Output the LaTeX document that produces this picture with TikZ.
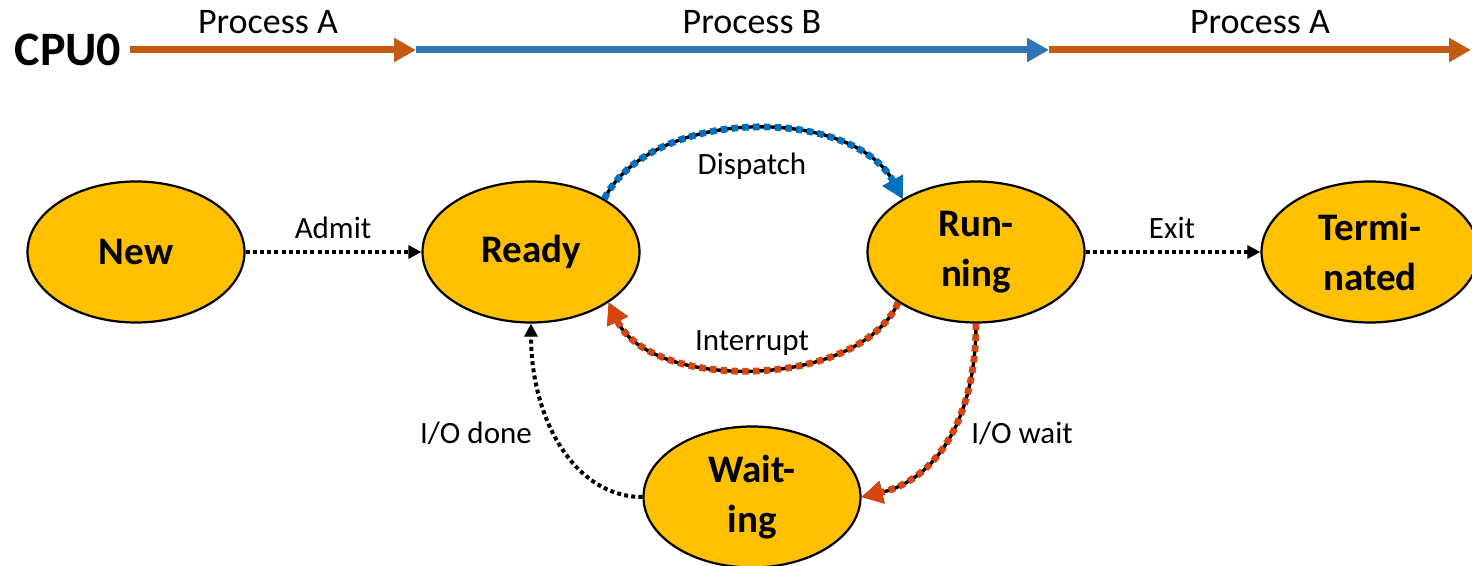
\documentclass[tikz,border=0pt]{standalone}
\usepackage{fontspec}
\setmainfont{Carlito}
\usetikzlibrary{shapes.geometric,arrows.meta}
\definecolor{procA}{HTML}{C55A11}
\definecolor{procB}{HTML}{2E75B6}
\definecolor{gold}{HTML}{FFC000}
\definecolor{dispblue}{HTML}{0070C0}
\definecolor{intred}{HTML}{D9450F}

\begin{document}
\begin{tikzpicture}[x=0.5pt,y=-0.5pt,
  state/.style={ellipse,draw=black,line width=1.1pt,fill=gold,
    minimum width=108.5pt,minimum height=70.5pt,inner sep=0pt,align=center,
    font=\fontsize{19.5}{25}\selectfont\bfseries},
  timeline/.style={line width=3.5pt,-{Triangle[length=11pt,width=11.5pt]}},
  plabel/.style={font=\fontsize{18}{22}\selectfont},
  elabel/.style={font=\fontsize{15.5}{19}\selectfont},
  blackdot/.style={line width=2pt,dash pattern=on 2pt off 1.6pt,
    -{Triangle[length=6.5pt,width=6.5pt]}},
  underlay/.style={line width=1.7pt,black,-{Triangle[length=10.5pt,width=11pt]}},
  overlay/.style={line width=3.4pt,dash pattern=on 3.2pt off 2.2pt,
    -{Triangle[length=10.5pt,width=11pt]}}
]
\useasboundingbox (0,0) rectangle (1472,566);

% CPU timeline
\node[font=\fontsize{24}{28}\selectfont\bfseries] (cpu) at (68,50) {CPU0};
\coordinate (t0) at (130,50);
\coordinate (t1) at (416,50);
\coordinate (t2) at (1049,50);
\coordinate (t3) at (1471,50);
\draw[timeline,procA] (t0) -- (t1);
\draw[timeline,procB] (t1) -- (t2);
\draw[timeline,procA] (t2) -- (t3);
\node[plabel] (pa1) at (268,22) {Process A};
\node[plabel] (pb)  at (752,22) {Process B};
\node[plabel] (pa2) at (1260,22) {Process A};

% process states
\node[state] (new)   at (136,252) {New};
\node[state] (ready) at (531,252) {Ready};
\node[state] (run)   at (976,252) {Run-\\ning};
\node[state] (term)  at (1370,252) {Termi-\\nated};
\node[state] (wait)  at (752,497) {Wait-\\ing};

% plain transitions
\draw[blackdot] (new.east) -- (ready.west);
\draw[blackdot] (run.east) -- (term.west);
\draw[blackdot] (wait.west) .. controls (575,497) and (531,420) .. (ready.south);

% scheduler transitions
\draw[underlay] (ready.36) .. controls (652,106) and (852,106) .. (run.144);
\draw[overlay,dispblue] (ready.36) .. controls (652,106) and (852,106) .. (run.144);
\draw[underlay] (run.-147) .. controls (858,391) and (650,391) .. (ready.-33);
\draw[overlay,intred] (run.-147) .. controls (858,391) and (650,391) .. (ready.-33);
\draw[underlay] (run.south) .. controls (976,420) and (935,480) .. (wait.east);
\draw[overlay,intred] (run.south) .. controls (976,420) and (935,480) .. (wait.east);

% transition labels
\node[elabel] (lAdmit) at (333,228) {Admit};
\node[elabel] (lDisp)  at (752,166) {Dispatch};
\node[elabel] (lInt)   at (752,343) {Interrupt};
\node[elabel] (lExit)  at (1172,228) {Exit};
\node[elabel] (lWait)  at (1022,433) {I/O wait};
\node[elabel] (lDone)  at (476,433) {I/O done};
\end{tikzpicture}
\end{document}
